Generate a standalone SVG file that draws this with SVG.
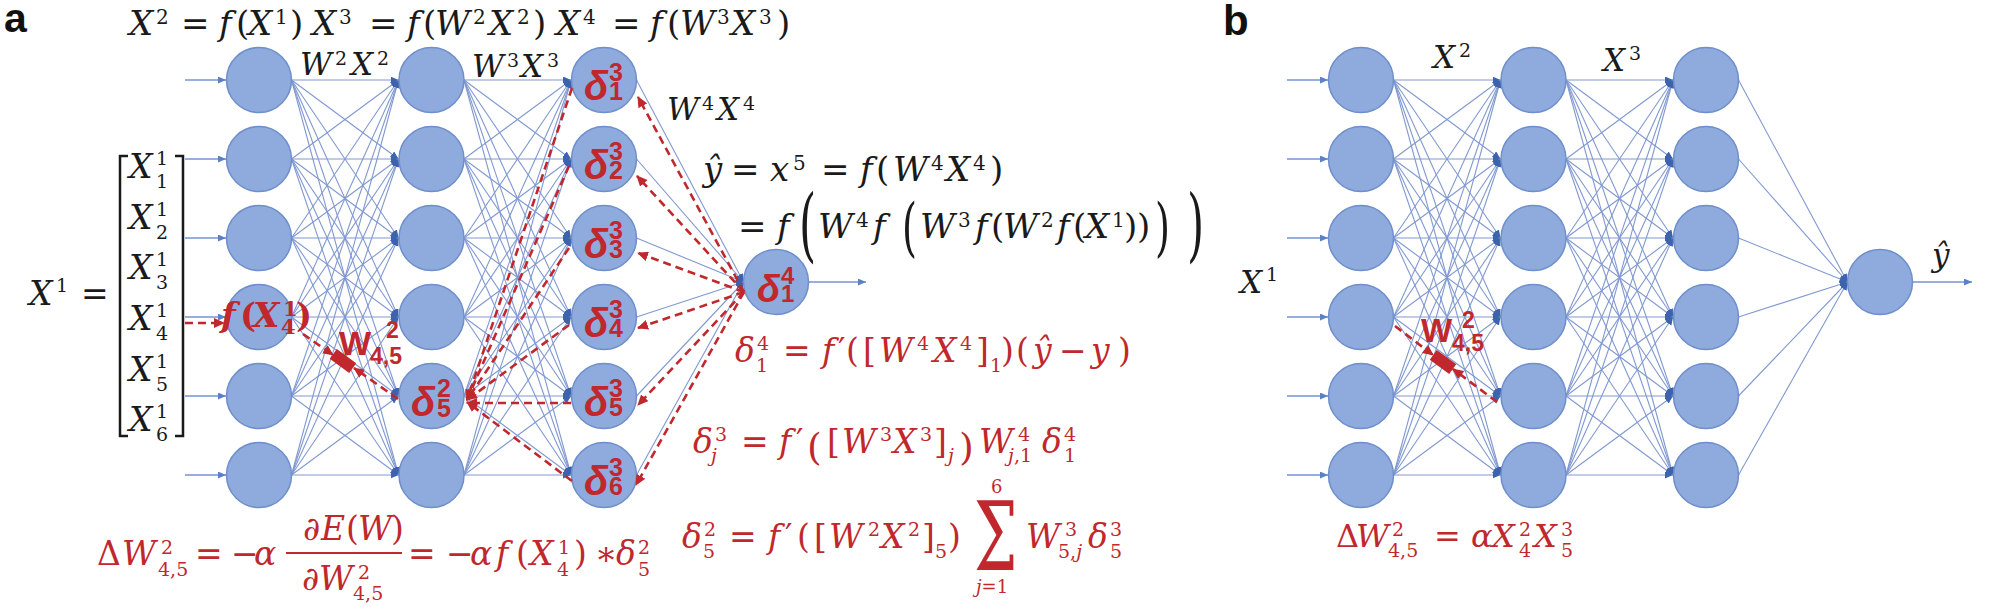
<svg xmlns="http://www.w3.org/2000/svg" width="2000" height="610" viewBox="0 0 2000 610">
<style>
.n{fill:#8faadc;stroke:#6e8fcb;stroke-width:1.5}
.e{stroke:#8199d0;stroke-width:1.1;fill:none;marker-end:url(#ab)}
.in{stroke:#7394d2;stroke-width:1.4;marker-end:url(#ai)}
.d{stroke:#c0282d;stroke-width:2.6;stroke-dasharray:8 5;fill:none;marker-end:url(#ar)}
.k{font-family:"DejaVu Serif",serif;fill:#1a1a1a}
.r{font-family:"DejaVu Serif",serif;fill:#c0282d}
.it{font-style:italic}
.nl{font-family:"Liberation Sans",Arial,sans-serif;font-weight:bold;fill:#c0282d}
.lab{font-family:"Liberation Sans",Arial,sans-serif;font-weight:bold;fill:#111}
.br{fill:none;stroke:#1a1a1a;stroke-width:2.5}
</style>
<defs>
<marker id="ab" markerUnits="userSpaceOnUse" markerWidth="10" markerHeight="8" refX="8" refY="3.5" orient="auto"><path d="M0,0 L8,3.5 L0,7 z" fill="#3d63ae"/></marker>
<marker id="ai" markerUnits="userSpaceOnUse" markerWidth="10" markerHeight="8" refX="8" refY="3.5" orient="auto"><path d="M0,0 L8,3.5 L0,7 z" fill="#5a80c8"/></marker>
<marker id="ar" markerUnits="userSpaceOnUse" markerWidth="12" markerHeight="10" refX="10" refY="5" orient="auto"><path d="M0,0 L11,5 L0,10 z" fill="#c0282d"/></marker>
<g id="mesh" class="e">
<line x1="0" y1="0" x2="107" y2="0"/><line x1="0" y1="0" x2="107" y2="79"/><line x1="0" y1="0" x2="107" y2="158"/><line x1="0" y1="0" x2="107" y2="237"/><line x1="0" y1="0" x2="107" y2="316"/><line x1="0" y1="0" x2="107" y2="395"/>
<line x1="0" y1="79" x2="107" y2="0"/><line x1="0" y1="79" x2="107" y2="79"/><line x1="0" y1="79" x2="107" y2="158"/><line x1="0" y1="79" x2="107" y2="237"/><line x1="0" y1="79" x2="107" y2="316"/><line x1="0" y1="79" x2="107" y2="395"/>
<line x1="0" y1="158" x2="107" y2="0"/><line x1="0" y1="158" x2="107" y2="79"/><line x1="0" y1="158" x2="107" y2="158"/><line x1="0" y1="158" x2="107" y2="237"/><line x1="0" y1="158" x2="107" y2="316"/><line x1="0" y1="158" x2="107" y2="395"/>
<line x1="0" y1="237" x2="107" y2="0"/><line x1="0" y1="237" x2="107" y2="79"/><line x1="0" y1="237" x2="107" y2="158"/><line x1="0" y1="237" x2="107" y2="237"/><line x1="0" y1="237" x2="107" y2="316"/><line x1="0" y1="237" x2="107" y2="395"/>
<line x1="0" y1="316" x2="107" y2="0"/><line x1="0" y1="316" x2="107" y2="79"/><line x1="0" y1="316" x2="107" y2="158"/><line x1="0" y1="316" x2="107" y2="237"/><line x1="0" y1="316" x2="107" y2="316"/><line x1="0" y1="316" x2="107" y2="395"/>
<line x1="0" y1="395" x2="107" y2="0"/><line x1="0" y1="395" x2="107" y2="79"/><line x1="0" y1="395" x2="107" y2="158"/><line x1="0" y1="395" x2="107" y2="237"/><line x1="0" y1="395" x2="107" y2="316"/><line x1="0" y1="395" x2="107" y2="395"/>
</g>
</defs>
<rect width="2000" height="610" fill="#fff"/>

<g id="connectors">
<use href="#mesh" x="291.5" y="80"/>
<use href="#mesh" x="464" y="80"/>
<use href="#mesh" x="1393.5" y="80"/>
<use href="#mesh" x="1566" y="80"/>
<g class="e">
<line x1="636.5" y1="80" x2="743.5" y2="282"/><line x1="636.5" y1="159" x2="743.5" y2="282"/><line x1="636.5" y1="238" x2="743.5" y2="282"/><line x1="636.5" y1="317" x2="743.5" y2="282"/><line x1="636.5" y1="396" x2="743.5" y2="282"/><line x1="636.5" y1="475" x2="743.5" y2="282"/>
<line x1="1738.5" y1="80" x2="1847.5" y2="282"/><line x1="1738.5" y1="159" x2="1847.5" y2="282"/><line x1="1738.5" y1="238" x2="1847.5" y2="282"/><line x1="1738.5" y1="317" x2="1847.5" y2="282"/><line x1="1738.5" y1="396" x2="1847.5" y2="282"/><line x1="1738.5" y1="475" x2="1847.5" y2="282"/>
</g>
<g class="in">
<line x1="185" y1="80" x2="226" y2="80"/><line x1="185" y1="159" x2="226" y2="159"/><line x1="185" y1="238" x2="226" y2="238"/><line x1="185" y1="317" x2="226" y2="317"/><line x1="185" y1="396" x2="226" y2="396"/><line x1="185" y1="475" x2="226" y2="475"/>
<line x1="1287" y1="80" x2="1328" y2="80"/><line x1="1287" y1="159" x2="1328" y2="159"/><line x1="1287" y1="238" x2="1328" y2="238"/><line x1="1287" y1="317" x2="1328" y2="317"/><line x1="1287" y1="396" x2="1328" y2="396"/><line x1="1287" y1="475" x2="1328" y2="475"/>
<line x1="808.5" y1="282" x2="866" y2="282"/>
<line x1="1912.5" y1="282" x2="1972" y2="282"/>
</g>
</g>

<g id="panel-a-nodes">
<g id="a-l1-1"><circle class="n" cx="259" cy="80" r="32.5"/></g>
<g id="a-l1-2"><circle class="n" cx="259" cy="159" r="32.5"/></g>
<g id="a-l1-3"><circle class="n" cx="259" cy="238" r="32.5"/></g>
<g id="a-l1-4"><circle class="n" cx="259" cy="317" r="32.5"/></g>
<g id="a-l1-5"><circle class="n" cx="259" cy="396" r="32.5"/></g>
<g id="a-l1-6"><circle class="n" cx="259" cy="475" r="32.5"/></g>
<g id="a-l2-1"><circle class="n" cx="431.5" cy="80" r="32.5"/></g>
<g id="a-l2-2"><circle class="n" cx="431.5" cy="159" r="32.5"/></g>
<g id="a-l2-3"><circle class="n" cx="431.5" cy="238" r="32.5"/></g>
<g id="a-l2-4"><circle class="n" cx="431.5" cy="317" r="32.5"/></g>
<g id="a-l2-5"><circle class="n" cx="431.5" cy="396" r="32.5"/><text class="nl"><tspan font-style="italic" font-size="40" x="411" y="416">δ</tspan><tspan font-size="25" x="437" y="397">2</tspan><tspan font-size="25" x="437" y="417">5</tspan></text></g>
<g id="a-l2-6"><circle class="n" cx="431.5" cy="475" r="32.5"/></g>
<g id="a-l3-1"><circle class="n" cx="604" cy="80" r="32.5"/><text class="nl"><tspan font-style="italic" font-size="40" x="584" y="100">δ</tspan><tspan font-size="25" x="609" y="81">3</tspan><tspan font-size="25" x="609" y="100">1</tspan></text></g>
<g id="a-l3-2"><circle class="n" cx="604" cy="159" r="32.5"/><text class="nl"><tspan font-style="italic" font-size="40" x="584" y="179">δ</tspan><tspan font-size="25" x="609" y="160">3</tspan><tspan font-size="25" x="609" y="179">2</tspan></text></g>
<g id="a-l3-3"><circle class="n" cx="604" cy="238" r="32.5"/><text class="nl"><tspan font-style="italic" font-size="40" x="584" y="258">δ</tspan><tspan font-size="25" x="609" y="239">3</tspan><tspan font-size="25" x="609" y="258">3</tspan></text></g>
<g id="a-l3-4"><circle class="n" cx="604" cy="317" r="32.5"/><text class="nl"><tspan font-style="italic" font-size="40" x="584" y="337">δ</tspan><tspan font-size="25" x="609" y="318">3</tspan><tspan font-size="25" x="609" y="337">4</tspan></text></g>
<g id="a-l3-5"><circle class="n" cx="604" cy="396" r="32.5"/><text class="nl"><tspan font-style="italic" font-size="40" x="584" y="416">δ</tspan><tspan font-size="25" x="609" y="397">3</tspan><tspan font-size="25" x="609" y="416">5</tspan></text></g>
<g id="a-l3-6"><circle class="n" cx="604" cy="475" r="32.5"/><text class="nl"><tspan font-style="italic" font-size="40" x="584" y="495">δ</tspan><tspan font-size="25" x="609" y="476">3</tspan><tspan font-size="25" x="609" y="495">6</tspan></text></g>
<g id="a-out"><circle class="n" cx="776" cy="282" r="32.5"/><text class="nl"><tspan font-style="italic" font-size="38" x="757" y="302">δ</tspan><tspan font-size="24" x="781" y="284">4</tspan><tspan font-size="24" x="781" y="302">1</tspan></text></g>
</g>

<g id="panel-b-nodes">
<g id="b-l1-1"><circle class="n" cx="1361" cy="80" r="32.5"/></g>
<g id="b-l1-2"><circle class="n" cx="1361" cy="159" r="32.5"/></g>
<g id="b-l1-3"><circle class="n" cx="1361" cy="238" r="32.5"/></g>
<g id="b-l1-4"><circle class="n" cx="1361" cy="317" r="32.5"/></g>
<g id="b-l1-5"><circle class="n" cx="1361" cy="396" r="32.5"/></g>
<g id="b-l1-6"><circle class="n" cx="1361" cy="475" r="32.5"/></g>
<g id="b-l2-1"><circle class="n" cx="1533.5" cy="80" r="32.5"/></g>
<g id="b-l2-2"><circle class="n" cx="1533.5" cy="159" r="32.5"/></g>
<g id="b-l2-3"><circle class="n" cx="1533.5" cy="238" r="32.5"/></g>
<g id="b-l2-4"><circle class="n" cx="1533.5" cy="317" r="32.5"/></g>
<g id="b-l2-5"><circle class="n" cx="1533.5" cy="396" r="32.5"/></g>
<g id="b-l2-6"><circle class="n" cx="1533.5" cy="475" r="32.5"/></g>
<g id="b-l3-1"><circle class="n" cx="1706" cy="80" r="32.5"/></g>
<g id="b-l3-2"><circle class="n" cx="1706" cy="159" r="32.5"/></g>
<g id="b-l3-3"><circle class="n" cx="1706" cy="238" r="32.5"/></g>
<g id="b-l3-4"><circle class="n" cx="1706" cy="317" r="32.5"/></g>
<g id="b-l3-5"><circle class="n" cx="1706" cy="396" r="32.5"/></g>
<g id="b-l3-6"><circle class="n" cx="1706" cy="475" r="32.5"/></g>
<g id="b-out"><circle class="n" cx="1880" cy="282" r="32.5"/></g>
</g>

<g id="backprop-arrows">
<line class="d" x1="185" y1="323" x2="224" y2="323"/>
<line class="d" x1="303" y1="334" x2="333" y2="355"/>
<line class="d" x1="398" y1="399" x2="354" y2="368"/>
<rect x="-12" y="-6" width="24" height="12" fill="#c0282d" transform="translate(343,361) rotate(36)"/>
<line class="d" x1="744" y1="292" x2="638" y2="97"/>
<line class="d" x1="744" y1="292" x2="637" y2="176"/>
<line class="d" x1="744" y1="292" x2="638" y2="253"/>
<line class="d" x1="744" y1="292" x2="638" y2="328"/>
<line class="d" x1="744" y1="292" x2="638" y2="405"/>
<line class="d" x1="744" y1="292" x2="636" y2="485"/>
<line class="d" x1="572" y1="88" x2="467" y2="400"/>
<line class="d" x1="569" y1="166" x2="467" y2="400"/>
<line class="d" x1="569" y1="248" x2="467" y2="400"/>
<line class="d" x1="569" y1="325" x2="467" y2="400"/>
<line class="d" x1="571" y1="403" x2="467" y2="403"/>
<line class="d" x1="572" y1="481" x2="467" y2="402"/>
<line class="d" x1="1395" y1="326" x2="1433" y2="355"/>
<line class="d" x1="1497" y1="402" x2="1453" y2="369"/>
<rect x="-12" y="-6" width="24" height="12" fill="#c0282d" transform="translate(1443,362) rotate(36)"/>
</g>

<g id="labels">
<text class="lab" font-size="41" x="4" y="32">a</text>
<text class="lab" font-size="42" x="1223" y="35">b</text>

<text class="k" font-size="34"><tspan class="it" x="129" y="35">X</tspan><tspan font-size="20" x="156" y="24">2</tspan><tspan x="181" y="35">=</tspan><tspan class="it" x="219" y="35">f</tspan><tspan x="236" y="35">(</tspan><tspan class="it" x="248" y="35">X</tspan><tspan font-size="20" x="275" y="24">1</tspan><tspan x="290" y="35">)</tspan><tspan class="it" x="312" y="35">X</tspan><tspan font-size="20" x="339" y="24">3</tspan><tspan x="369" y="35">=</tspan><tspan class="it" x="407" y="35">f</tspan><tspan x="423" y="35">(</tspan><tspan class="it" x="435" y="35">W</tspan><tspan font-size="20" x="473" y="24">2</tspan><tspan class="it" x="489" y="35">X</tspan><tspan font-size="20" x="517" y="24">2</tspan><tspan x="533" y="35">)</tspan><tspan class="it" x="556" y="35">X</tspan><tspan font-size="20" x="583" y="24">4</tspan><tspan x="612" y="35">=</tspan><tspan class="it" x="650" y="35">f</tspan><tspan x="667" y="35">(</tspan><tspan class="it" x="680" y="35">W</tspan><tspan font-size="20" x="717" y="24">3</tspan><tspan class="it" x="731" y="35">X</tspan><tspan font-size="20" x="759" y="24">3</tspan><tspan x="777" y="35">)</tspan></text>

<text class="k" font-size="31"><tspan class="it" x="300" y="75">W</tspan><tspan font-size="19" x="335" y="65">2</tspan><tspan class="it" x="351" y="75">X</tspan><tspan font-size="19" x="377" y="65">2</tspan></text>
<text class="k" font-size="31"><tspan class="it" x="472" y="77">W</tspan><tspan font-size="19" x="507" y="67">3</tspan><tspan class="it" x="521" y="77">X</tspan><tspan font-size="19" x="547" y="67">3</tspan></text>
<text class="k" font-size="31"><tspan class="it" x="667" y="120">W</tspan><tspan font-size="19" x="702" y="110">4</tspan><tspan class="it" x="717" y="120">X</tspan><tspan font-size="19" x="743" y="110">4</tspan></text>

<text class="k" font-size="34"><tspan class="it" x="703" y="181">ŷ</tspan><tspan x="731" y="181">=</tspan><tspan class="it" x="770" y="181">x</tspan><tspan font-size="20" x="793" y="170">5</tspan><tspan x="821" y="181">=</tspan><tspan class="it" x="860" y="181">f</tspan><tspan x="876" y="181">(</tspan><tspan class="it" x="893" y="181">W</tspan><tspan font-size="20" x="931" y="170">4</tspan><tspan class="it" x="946" y="181">X</tspan><tspan font-size="20" x="973" y="170">4</tspan><tspan x="990" y="181">)</tspan></text>

<text class="k" font-size="34"><tspan x="738" y="238">=</tspan><tspan class="it" x="777" y="238">f</tspan><tspan class="it" x="818" y="238">W</tspan><tspan font-size="20" x="856" y="227">4</tspan><tspan class="it" x="873" y="238">f</tspan><tspan class="it" x="920" y="238">W</tspan><tspan font-size="20" x="958" y="227">3</tspan><tspan class="it" x="975" y="238">f</tspan><tspan x="991" y="238">(</tspan><tspan class="it" x="1003" y="238">W</tspan><tspan font-size="20" x="1041" y="227">2</tspan><tspan class="it" x="1057" y="238">f</tspan><tspan x="1073" y="238">(</tspan><tspan class="it" x="1085" y="238">X</tspan><tspan font-size="20" x="1112" y="227">1</tspan><tspan x="1124" y="238">)</tspan><tspan x="1137" y="238">)</tspan></text>
<text class="k" font-size="80" transform="translate(799,252) scale(0.55,1)">(</text>
<text class="k" font-size="64" transform="translate(902,249) scale(0.6,1)">(</text>
<text class="k" font-size="64" transform="translate(1155,249) scale(0.6,1)">)</text>
<text class="k" font-size="80" transform="translate(1187,252) scale(0.55,1)">)</text>

<text class="k" font-size="33"><tspan class="it" x="29" y="305">X</tspan><tspan font-size="19" x="56" y="292">1</tspan><tspan x="81" y="305">=</tspan></text>
<path class="br" d="M128,156 L120,156 L120,436 L128,436"/>
<path class="br" d="M175,156 L183,156 L183,436 L175,436"/>
<text class="k" font-size="33"><tspan class="it" x="129" y="178">X</tspan><tspan font-size="19" x="156" y="165">1</tspan><tspan font-size="19" x="156" y="188">1</tspan></text>
<text class="k" font-size="33"><tspan class="it" x="129" y="229">X</tspan><tspan font-size="19" x="156" y="216">1</tspan><tspan font-size="19" x="156" y="239">2</tspan></text>
<text class="k" font-size="33"><tspan class="it" x="129" y="279">X</tspan><tspan font-size="19" x="156" y="266">1</tspan><tspan font-size="19" x="156" y="289">3</tspan></text>
<text class="k" font-size="33"><tspan class="it" x="129" y="330">X</tspan><tspan font-size="19" x="156" y="317">1</tspan><tspan font-size="19" x="156" y="340">4</tspan></text>
<text class="k" font-size="33"><tspan class="it" x="129" y="381">X</tspan><tspan font-size="19" x="156" y="368">1</tspan><tspan font-size="19" x="156" y="391">5</tspan></text>
<text class="k" font-size="33"><tspan class="it" x="129" y="431">X</tspan><tspan font-size="19" x="156" y="418">1</tspan><tspan font-size="19" x="156" y="441">6</tspan></text>

<text class="r" font-size="34" font-weight="bold"><tspan class="it" x="221" y="327">f</tspan><tspan x="240" y="327">(</tspan><tspan class="it" x="253" y="327">X</tspan><tspan font-size="21" x="283" y="316">1</tspan><tspan font-size="21" x="281" y="334">4</tspan><tspan x="296" y="327">)</tspan></text>
<text class="nl"><tspan font-size="34" x="339" y="355">W</tspan><tspan font-size="23" x="386" y="338">2</tspan><tspan font-size="23" x="370" y="364">4,5</tspan></text>
<text class="nl"><tspan font-size="33" x="1421" y="342">W</tspan><tspan font-size="23" x="1462" y="328">2</tspan><tspan font-size="23" x="1452" y="351">4,5</tspan></text>

<text class="r" font-size="33"><tspan class="it" x="735" y="362">δ</tspan><tspan font-size="19" x="757" y="350">4</tspan><tspan font-size="19" x="756" y="372">1</tspan><tspan x="783" y="362">=</tspan><tspan class="it" x="822" y="362">f</tspan><tspan x="838" y="362">′</tspan><tspan x="846" y="362">(</tspan><tspan x="863" y="362">[</tspan><tspan class="it" x="879" y="362">W</tspan><tspan font-size="19" x="917" y="350">4</tspan><tspan class="it" x="933" y="362">X</tspan><tspan font-size="19" x="960" y="350">4</tspan><tspan x="976" y="362">]</tspan><tspan font-size="19" x="990" y="372">1</tspan><tspan x="1001" y="362">)</tspan><tspan x="1016" y="362">(</tspan><tspan class="it" x="1033" y="362">ŷ</tspan><tspan x="1059" y="362">−</tspan><tspan class="it" x="1091" y="362">y</tspan><tspan x="1118" y="362">)</tspan></text>

<text class="r" font-size="33"><tspan class="it" x="693" y="453">δ</tspan><tspan font-size="19" x="715" y="441">3</tspan><tspan class="it" font-size="19" x="711" y="462">j</tspan><tspan x="741" y="453">=</tspan><tspan class="it" x="779" y="453">f</tspan><tspan x="796" y="453">′</tspan><tspan font-size="38" x="807" y="460">(</tspan><tspan x="827" y="453">[</tspan><tspan class="it" x="842" y="453">W</tspan><tspan font-size="19" x="880" y="441">3</tspan><tspan class="it" x="893" y="453">X</tspan><tspan font-size="19" x="920" y="441">3</tspan><tspan x="934" y="453">]</tspan><tspan class="it" font-size="19" x="948" y="462">j</tspan><tspan font-size="38" x="959" y="460">)</tspan><tspan class="it" x="979" y="453">W</tspan><tspan font-size="19" x="1018" y="441">4</tspan><tspan class="it" font-size="19" x="1008" y="462">j</tspan><tspan font-size="19" y="462">,1</tspan><tspan class="it" x="1042" y="453">δ</tspan><tspan font-size="19" x="1064" y="441">4</tspan><tspan font-size="19" x="1064" y="462">1</tspan></text>

<text class="r" font-size="33"><tspan class="it" x="682" y="548">δ</tspan><tspan font-size="19" x="704" y="536">2</tspan><tspan font-size="19" x="703" y="558">5</tspan><tspan x="729" y="548">=</tspan><tspan class="it" x="768" y="548">f</tspan><tspan x="785" y="548">′</tspan><tspan x="797" y="548">(</tspan><tspan x="814" y="548">[</tspan><tspan class="it" x="829" y="548">W</tspan><tspan font-size="19" x="868" y="536">2</tspan><tspan class="it" x="881" y="548">X</tspan><tspan font-size="19" x="908" y="536">2</tspan><tspan x="922" y="548">]</tspan><tspan font-size="19" x="935" y="558">5</tspan><tspan x="948" y="548">)</tspan><tspan class="it" x="1026" y="548">W</tspan><tspan font-size="19" x="1065" y="536">3</tspan><tspan font-size="19" x="1058" y="558">5,</tspan><tspan class="it" font-size="19" y="558">j</tspan><tspan class="it" x="1088" y="548">δ</tspan><tspan font-size="19" x="1110" y="536">3</tspan><tspan font-size="19" x="1110" y="558">5</tspan></text>
<text class="r" font-size="96" transform="translate(974,570) scale(0.64,1)">Σ</text>
<text class="r" font-size="18"><tspan x="991" y="493">6</tspan><tspan class="it" x="976" y="593">j</tspan><tspan y="593">=1</tspan></text>

<text class="r" font-size="33"><tspan x="97" y="565">Δ</tspan><tspan class="it" x="122" y="565">W</tspan><tspan font-size="19" x="161" y="554">2</tspan><tspan font-size="19" x="158" y="576">4,5</tspan><tspan x="195" y="565">=</tspan><tspan x="231" y="565">−</tspan><tspan class="it" x="254" y="565">α</tspan><tspan x="303" y="540">∂</tspan><tspan class="it" x="321" y="540">E</tspan><tspan x="346" y="540">(</tspan><tspan class="it" x="358" y="540">W</tspan><tspan x="391" y="540">)</tspan><tspan x="302" y="590">∂</tspan><tspan class="it" x="319" y="590">W</tspan><tspan font-size="19" x="358" y="579">2</tspan><tspan font-size="19" x="353" y="600">4,5</tspan><tspan x="408" y="565">=</tspan><tspan x="446" y="565">−</tspan><tspan class="it" x="470" y="565">α</tspan><tspan class="it" x="496" y="565">f</tspan><tspan x="516" y="565">(</tspan><tspan class="it" x="530" y="565">X</tspan><tspan font-size="19" x="558" y="554">1</tspan><tspan font-size="19" x="557" y="576">4</tspan><tspan x="574" y="565">)</tspan><tspan x="595" y="565">∗</tspan><tspan class="it" x="616" y="565">δ</tspan><tspan font-size="19" x="638" y="554">2</tspan><tspan font-size="19" x="638" y="576">5</tspan></text>
<line x1="286" y1="553" x2="402" y2="553" stroke="#c0282d" stroke-width="2"/>

<text class="k" font-size="31"><tspan class="it" x="1433" y="68">X</tspan><tspan font-size="19" x="1459" y="57">2</tspan></text>
<text class="k" font-size="31"><tspan class="it" x="1603" y="71">X</tspan><tspan font-size="19" x="1629" y="60">3</tspan></text>
<text class="k" font-size="31"><tspan class="it" x="1240" y="293">X</tspan><tspan font-size="19" x="1266" y="281">1</tspan></text>
<text class="k it" font-size="31" x="1932" y="266">ŷ</text>

<text class="r" font-size="32"><tspan x="1336" y="547">Δ</tspan><tspan class="it" x="1356" y="547">W</tspan><tspan font-size="19" x="1392" y="536">2</tspan><tspan font-size="19" x="1388" y="557">4,5</tspan><tspan x="1434" y="547">=</tspan><tspan class="it" x="1471" y="547">α</tspan><tspan class="it" x="1492" y="547">X</tspan><tspan font-size="19" x="1519" y="536">2</tspan><tspan font-size="19" x="1519" y="557">4</tspan><tspan class="it" x="1534" y="547">X</tspan><tspan font-size="19" x="1561" y="536">3</tspan><tspan font-size="19" x="1561" y="557">5</tspan></text>
</g>
</svg>
